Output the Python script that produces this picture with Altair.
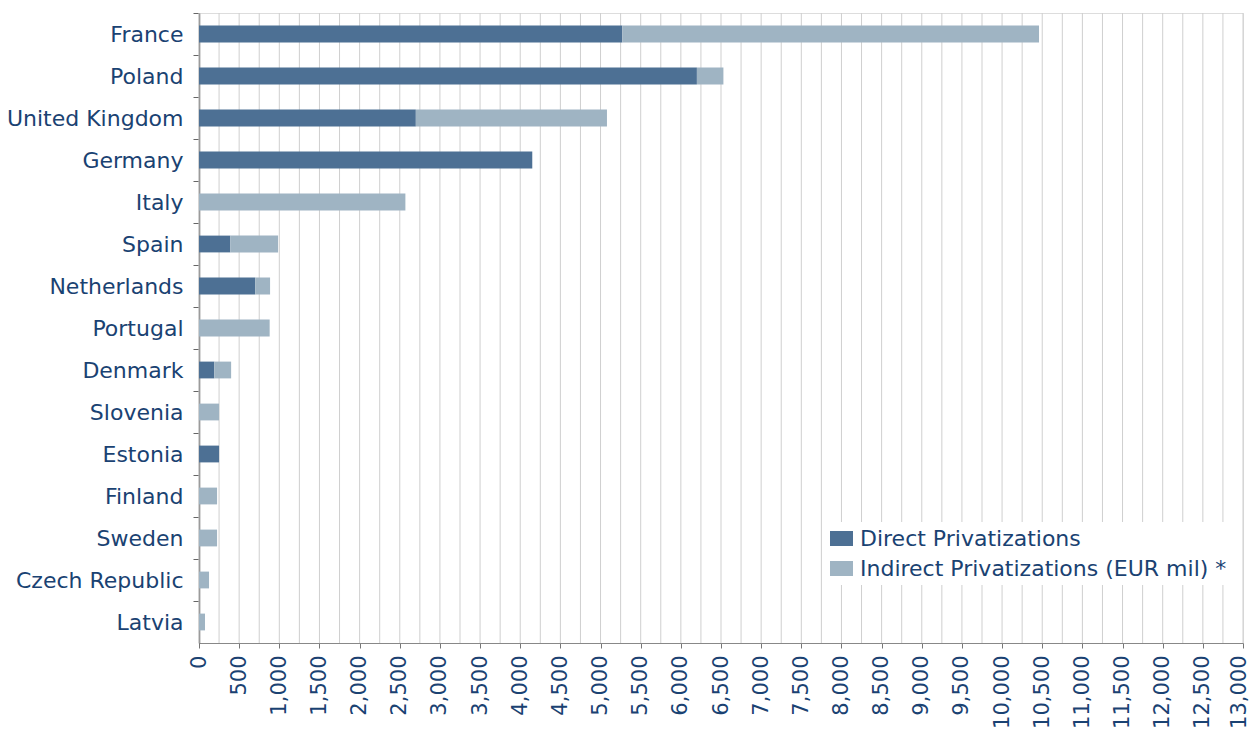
import altair as alt
import pandas as pd

countries = ["France", "Poland", "United Kingdom", "Germany", "Italy", "Spain",
             "Netherlands", "Portugal", "Denmark", "Slovenia", "Estonia",
             "Finland", "Sweden", "Czech Republic", "Latvia"]
direct = [5270, 6200, 2700, 4150, 0, 390, 700, 0, 190, 0, 250, 0, 0, 0, 0]
indirect = [5190, 330, 2380, 0, 2570, 595, 185, 880, 210, 250, 0, 225, 225, 125, 75]
series = ["Direct Privatizations", "Indirect Privatizations (EUR mil) *"]
colors = ["#4d7094", "#9fb4c3"]
tick_values = list(range(0, 13001, 500))
grid_values = list(range(0, 13001, 250))

rows = []
for c, d, i in zip(countries, direct, indirect):
    rows.append({"country": c, "series": series[0], "value": d, "ord": 0})
    rows.append({"country": c, "series": series[1], "value": i, "ord": 1})
df = pd.DataFrame(rows)
grid_df = pd.DataFrame({"value": grid_values})

FONT = "DejaVu Sans"
TXT = "#1a4272"

xscale = alt.Scale(domain=[0, 13000], nice=False, zero=True)
xaxis = alt.Axis(values=tick_values, format=",.0f", labelAngle=270, orient="bottom",
                 labelAlign="right", labelBaseline="middle",
                 labelFont=FONT, labelFontSize=21, labelColor=TXT,
                 labelOffset={"condition": {"test": "datum.value == 13000", "value": -4},
                              "value": 0},
                 labelPadding=7, tickSize=5, tickColor="#777777",
                 domainColor="#888888", grid=False, labelOverlap=False)

grid = alt.Chart(grid_df).mark_rule(color="#cfcfcf", strokeWidth=1).encode(
    x=alt.X("value:Q", scale=xscale, axis=xaxis, title=None)
)

bars = alt.Chart(df).mark_bar().encode(
    y=alt.Y("country:N", sort=countries, title=None,
            scale=alt.Scale(paddingInner=0.6, paddingOuter=0.3),
            axis=alt.Axis(labelFont=FONT, labelFontSize=22, labelColor=TXT,
                          labelPadding=10, tickSize=6, tickColor="#666666",
                          tickOffset=-21, labelOffset=21,
                          domainColor="#666666", domainWidth=1.5, grid=False)),
    x=alt.X("value:Q", stack="zero", scale=xscale, title=None, axis=xaxis),
    color=alt.Color("series:N", title=None,
                    scale=alt.Scale(domain=series, range=colors),
                    legend=alt.Legend(orient="none", legendX=626, legendY=509,
                                      fillColor="white", padding=5,
                                      symbolType="M-1,-0.65H1V0.65H-1Z",
                                      symbolSize=529, symbolStrokeWidth=0,
                                      symbolOpacity=1,
                                      labelFont=FONT, labelFontSize=22,
                                      labelColor=TXT, labelOffset=7,
                                      rowPadding=7, labelLimit=500)),
    order=alt.Order("ord:Q"),
)

chart = alt.layer(grid, bars).properties(
    width=1044, height=630,
    autosize=alt.AutoSizeParams(type="none"),
    padding={"left": 191, "top": 5, "right": 7, "bottom": 85},
).configure_view(stroke=None).configure(background="white")

chart.save("out.html", embed_options={"renderer": "svg", "actions": False})
